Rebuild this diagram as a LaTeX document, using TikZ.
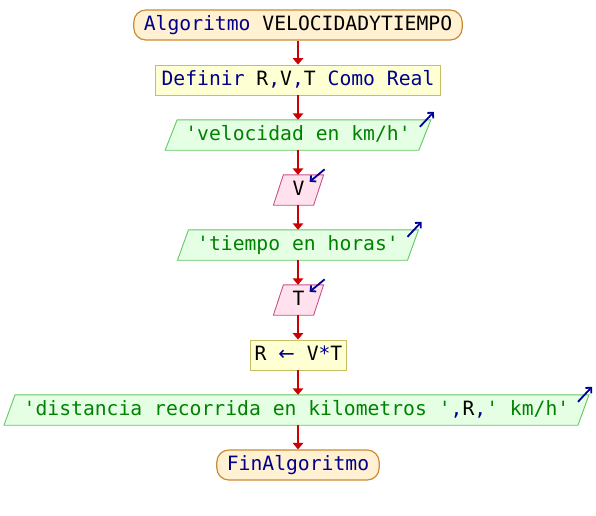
\documentclass[tikz,border=0pt]{standalone}
\usepackage{fontspec}
\setmonofont{DejaVu Sans Mono}
\newfontfamily\symfont{DejaVu Sans}
\usetikzlibrary{arrows.meta,backgrounds,calc}

% palette
\definecolor{kwcol}{RGB}{0,0,140}
\definecolor{strcol}{RGB}{0,130,0}
\definecolor{flowcol}{RGB}{204,0,0}
\definecolor{iocol}{RGB}{0,0,150}
\definecolor{termfill}{RGB}{255,241,210}
\definecolor{termline}{RGB}{204,138,50}
\definecolor{procfill}{RGB}{255,255,212}
\definecolor{procline}{RGB}{200,190,100}
\definecolor{outfill}{RGB}{228,255,228}
\definecolor{outline}{RGB}{100,200,100}
\definecolor{infill}{RGB}{255,226,238}
\definecolor{inline}{RGB}{200,80,140}

% syntax colouring helpers
\newcommand{\kwd}[1]{\textcolor{kwcol}{#1}}
\newcommand{\strg}[1]{\textcolor{strcol}{#1}}
\newcommand{\qt}{\textquotesingle}

% slanted box drawn around a named node: #1 node, #2 style, #3 skew
\newcommand{\skewbox}[3]{%
  \path[#2] ([xshift=#3]#1.north west) -- ([xshift=#3]#1.north east)
    -- ([xshift=-#3]#1.south east) -- ([xshift=-#3]#1.south west) -- cycle;}

\tikzset{
  every node/.style={font=\ttfamily\fontsize{19.7pt}{23pt}\selectfont,
    minimum height=30pt, inner ysep=0pt, text height=14.5pt, text depth=4pt},
  termbox/.style={draw=termline, fill=termfill, line width=1.2pt,
    rounded corners=12pt, inner xsep=10pt},
  procbox/.style={draw=procline, fill=procfill, line width=0.9pt, inner xsep=6.5pt},
  iobox/.style={inner xsep=14pt},
  outshape/.style={draw=outline, fill=outfill, line width=0.9pt},
  inshape/.style={draw=inline, fill=infill, line width=0.9pt},
  flow/.style={draw=flowcol, line width=1.8pt, -{Triangle[width=10.5pt,length=6.5pt]}},
  iomark/.style={draw=iocol, line width=1.8pt, -{Straight Barb[length=4pt,width=8pt]}},
}

\begin{document}
\begin{tikzpicture}[x=1pt,y=-1pt]
\useasboundingbox (0,0) rectangle (596,515);

\node[termbox] (start) at (298,25) {\kwd{Algoritmo} VELOCIDADYTIEMPO};
\node[procbox] (defs) at (298,80) {\kwd{Definir} R\kwd{,}V\kwd{,}T \kwd{Como Real}};
\node[iobox] (out1) at (298,135) {\strg{\qt velocidad en km/h\qt}};
\node[iobox] (in1) at (298.5,190) {V};
\node[iobox] (out2) at (298,245) {\strg{\qt tiempo en horas\qt}};
\node[iobox] (in2) at (298.5,300) {T};
\node[procbox, inner xsep=4pt] (calc) at (298.5,355) {R \kwd{\symfont←} V\kwd{*}T};
\node[iobox] (out3) at (296.5,410)
  {\strg{\qt distancia recorrida en kilometros \qt}\kwd{,}R\kwd{,}\strg{\qt{} km/h\qt}};
\node[termbox] (stop) at (298,465) {\kwd{FinAlgoritmo}};

\begin{scope}[on background layer]
  \skewbox{out1}{outshape}{6pt}
  \skewbox{in1}{inshape}{5pt}
  \skewbox{out2}{outshape}{5.5pt}
  \skewbox{in2}{inshape}{5pt}
  \skewbox{out3}{outshape}{5.5pt}
\end{scope}

% flow connectors
\draw[flow] (start.south -| defs.north) -- (defs.north);
\draw[flow] (defs.south) -- (defs.south |- out1.north);
\draw[flow] (out1.south -| defs.south) -- (defs.south |- in1.north);
\draw[flow] (in1.south -| defs.south) -- (defs.south |- out2.north);
\draw[flow] (out2.south -| defs.south) -- (defs.south |- in2.north);
\draw[flow] (in2.south -| defs.south) -- (defs.south |- calc.north);
\draw[flow] (calc.south -| defs.south) -- (defs.south |- out3.north);
\draw[flow] (out3.south -| defs.south) -- (defs.south |- stop.north);

% output / input markers
\foreach \n/\s in {out1/6, out2/5.5, out3/5.5} {
  \draw[iomark] ($(\n.north east)+(\s pt-11pt,-7pt)$) -- ($(\n.north east)+(\s pt+3pt,8pt)$);
}
\foreach \n in {in1, in2} {
  \draw[iomark] ($(\n.north east)+(6pt,5.5pt)$) -- ($(\n.north east)+(-9pt,-7pt)$);
}
\end{tikzpicture}
\end{document}
